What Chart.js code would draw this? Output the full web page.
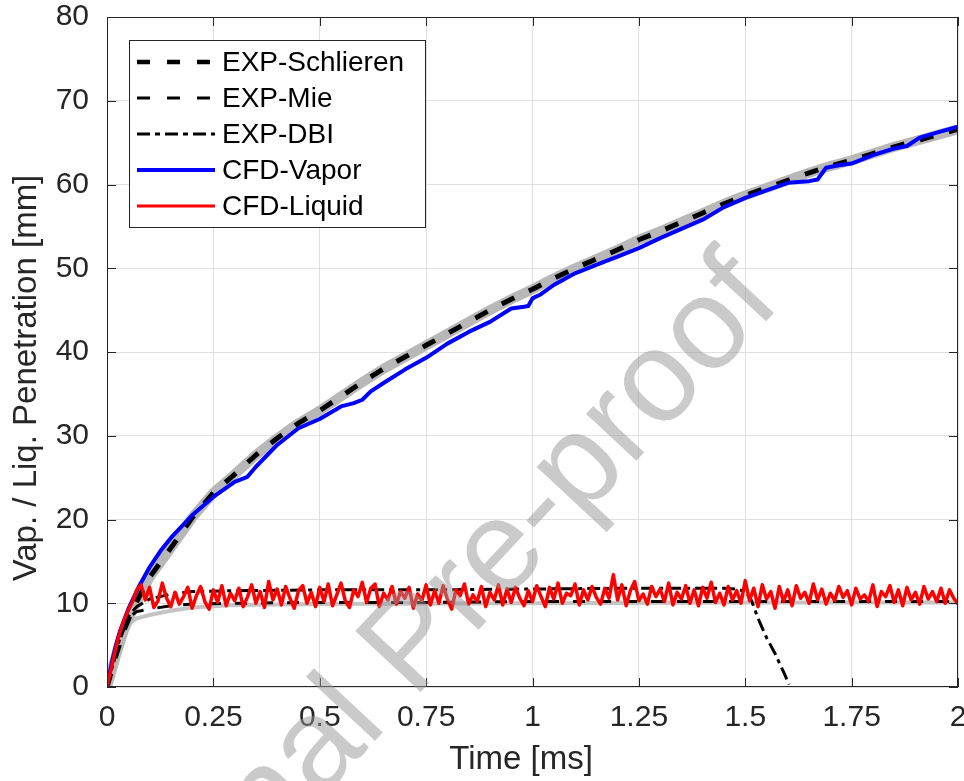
<!DOCTYPE html>
<html><head><meta charset="utf-8">
<script src="https://cdn.jsdelivr.net/npm/chart.js@4"></script>
<style>html,body{margin:0;padding:0;background:#fff;}canvas{display:block}</style>
</head><body>
<canvas id="c" width="964" height="781"></canvas>
<script>
// ---- tick labels ----
const xTickValues = [0, 0.25, 0.5, 0.75, 1, 1.25, 1.5, 1.75, 2];
const xTickLabels = ['0', '0.25', '0.5', '0.75', '1', '1.25', '1.5', '1.75', '2'];
const yTickValues = [0, 10, 20, 30, 40, 50, 60, 70, 80];
const yTickLabels = ['0', '10', '20', '30', '40', '50', '60', '70', '80'];
const xTitle = 'Time [ms]';
const yTitle = 'Vap. / Liq. Penetration [mm]';
const seriesNames = ['EXP-Schlieren', 'EXP-Mie', 'EXP-DBI', 'CFD-Vapor', 'CFD-Liquid'];

// ---- EXP-Schlieren (vapor penetration) ----
const schlierenT = [0, 0.02, 0.04, 0.06, 0.08, 0.1, 0.15, 0.2, 0.25, 0.3, 0.35, 0.4, 0.45, 0.5, 0.55, 0.6, 0.65, 0.7, 0.75, 0.8, 0.85, 0.9, 0.95, 1.0, 1.05, 1.1, 1.15, 1.2, 1.25, 1.3, 1.35, 1.4, 1.45, 1.5, 1.55, 1.6, 1.65, 1.7, 1.75, 1.8, 1.85, 1.9, 1.95, 2.0];
const schlierenV = [0, 3.6, 6.8, 9.2, 11.2, 13.1, 16.6, 20.2, 23.2, 25.4, 27.7, 29.7, 31.5, 33.0, 34.7, 36.4, 38.0, 39.4, 40.8, 42.2, 43.6, 45.0, 46.3, 47.5, 48.8, 50.0, 51.1, 52.2, 53.4, 54.4, 55.5, 56.6, 57.7, 58.7, 59.6, 60.5, 61.4, 62.2, 62.9, 63.7, 64.5, 65.2, 65.9, 66.6];

// ---- EXP-Mie (liquid length) and its shaded spread ----
const mieT = [0, 0.01, 0.02, 0.03, 0.04, 0.05, 0.07, 0.1, 0.15, 0.2, 0.3, 0.5, 0.75, 1.0, 1.25, 1.5, 1.75, 2.0];
const mieV = [0, 1.8, 3.8, 5.6, 7.0, 8.3, 9.0, 9.3, 9.7, 9.9, 10.0, 10.1, 10.1, 10.2, 10.2, 10.2, 10.2, 10.2];
const mieBandT = [0, 0.03, 0.05, 0.07, 0.1, 0.15, 0.2, 0.3, 0.5, 1.0, 1.5, 2.0];
const mieBandV = [0, 5.5, 7.5, 8.2, 8.6, 9.1, 9.5, 9.8, 9.9, 10.0, 10.1, 10.1];

// ---- EXP-DBI (liquid length) ----
const dbiT = [0, 0.01, 0.02, 0.03, 0.04, 0.05, 0.07, 0.1, 0.15, 0.2, 0.3, 0.5, 0.75, 1.0, 1.25, 1.45, 1.48, 1.5, 1.515, 1.53, 1.55, 1.57, 1.59, 1.603];
const dbiV = [0, 1.9, 3.9, 5.8, 7.3, 8.4, 9.6, 10.5, 11.1, 11.4, 11.5, 11.6, 11.6, 11.7, 11.8, 11.8, 11.7, 11.4, 10.3, 8.2, 5.9, 4.0, 1.8, 0.3];

// ---- CFD-Vapor ----
const vaporT = [0, 0.01, 0.02, 0.03, 0.05, 0.075, 0.1, 0.125, 0.15, 0.2, 0.25, 0.3, 0.33, 0.35, 0.4, 0.45, 0.5, 0.55, 0.58, 0.6, 0.62, 0.65, 0.7, 0.75, 0.8, 0.85, 0.9, 0.95, 0.98, 0.99, 1.0, 1.02, 1.05, 1.1, 1.15, 1.2, 1.25, 1.3, 1.35, 1.4, 1.45, 1.5, 1.55, 1.6, 1.65, 1.67, 1.69, 1.72, 1.75, 1.8, 1.85, 1.88, 1.91, 1.95, 2.0];
const vaporV = [0, 2.6, 4.8, 6.6, 9.3, 12.0, 14.3, 16.2, 17.8, 20.5, 22.7, 24.5, 25.1, 26.3, 28.9, 30.9, 32.0, 33.5, 33.9, 34.3, 35.3, 36.3, 37.9, 39.3, 41.0, 42.4, 43.6, 45.2, 45.4, 45.5, 46.4, 46.9, 48.0, 49.4, 50.4, 51.4, 52.4, 53.6, 54.7, 55.8, 57.3, 58.4, 59.3, 60.2, 60.4, 60.6, 62.0, 62.3, 62.5, 63.5, 64.3, 64.6, 65.6, 66.2, 66.9];

// ---- CFD-Liquid (sampled every 0.01 ms from 0 to 2 ms) ----
const liquidT0 = 0;
const liquidDt = 0.01;
const liquidV = [
  0, 2.2, 4.5, 6.5, 8.0, 9.2, 10.2, 11.6, 12.2, 10.4,
  11.9, 9.5, 10.3, 12.4, 10.6, 9.6, 11.3, 9.9, 10.8, 11.9,
  9.4, 10.9, 12.0, 10.2, 9.3, 11.6, 10.1, 12.1, 9.7, 11.2,
  10.3, 11.8, 9.6, 10.7, 12.2, 10.0, 11.4, 9.5, 12.6, 10.4,
  11.7, 9.8, 12.0, 10.6, 9.4, 11.5, 12.1, 10.0, 11.3, 9.6,
  11.9, 10.2, 12.3, 9.7, 11.0, 12.4, 10.3, 9.5, 11.6, 10.8,
  12.5, 10.1, 11.8, 12.3, 9.6, 11.2, 10.4, 12.0, 9.9, 11.4,
  10.6, 11.9, 9.4, 11.1, 10.3, 12.2, 9.8, 11.5, 10.0, 12.1,
  10.5, 9.3, 11.6, 10.9, 12.3, 9.9, 11.0, 10.2, 12.0, 9.6,
  11.3, 10.4, 12.2, 9.8, 11.7, 10.1, 11.9, 10.6, 9.7, 11.5,
  10.2, 12.1, 10.8, 9.6, 11.9, 10.5, 12.4, 10.0, 11.2, 10.9,
  12.3, 9.8, 11.6, 10.4, 12.0, 10.7, 9.9, 11.8, 10.6, 13.4,
  10.4, 12.2, 9.7, 11.5, 12.6, 10.3, 11.1, 9.9, 12.0, 10.8,
  11.7, 10.2, 12.4, 9.8, 11.3, 10.5, 12.1, 10.0, 11.6, 9.7,
  11.9, 10.6, 12.5, 10.1, 11.2, 9.8, 12.0, 10.4, 11.5, 10.0,
  12.7, 10.3, 11.8, 9.6, 12.2, 10.5, 11.4, 9.4, 12.0, 10.2,
  11.6, 9.7, 12.1, 10.6, 11.3, 10.0, 12.3, 10.4, 11.7, 9.9,
  11.2, 10.3, 12.0, 10.7, 11.5, 9.8, 11.8, 10.5, 11.0, 10.2,
  12.2, 9.6, 11.4, 10.8, 12.1, 10.1, 11.6, 9.7, 11.9, 10.4,
  11.3, 9.9, 12.0, 10.5, 11.4, 10.2, 11.8, 10.0, 11.6, 10.6,
  9.9
];

const FONT = '"Liberation Sans", Arial, Helvetica, sans-serif';
const TEXT = '#262626';

function pts(ts, vs) { return ts.map((t, i) => ({ x: t, y: vs[i] })); }
const liquidPts = liquidV.map((v, i) => ({ x: +(liquidT0 + i * liquidDt).toFixed(3), y: v }));

const styles = {
  schl: { color: '#000', width: 5, dash: [14, 16] },
  mie:  { color: '#000', width: 3, dash: [12, 14] },
  dbi:  { color: '#000', width: 3, dash: [13, 5, 4, 5] },
  vap:  { color: '#0000ff', width: 4, dash: [] },
  liq:  { color: '#ff0000', width: 3.5, dash: [] }
};

function lineDs(label, data, st, order) {
  return {
    label, data, order,
    borderColor: st.color, borderWidth: st.width, borderDash: st.dash,
    borderCapStyle: 'butt', borderJoinStyle: 'round',
    pointRadius: 0, tension: 0, fill: false
  };
}

const datasets = [
  lineDs('CFD-Liquid', liquidPts, styles.liq, 0),
  lineDs('CFD-Vapor', pts(vaporT, vaporV), styles.vap, 1),
  lineDs('EXP-DBI', pts(dbiT, dbiV), styles.dbi, 2),
  lineDs('EXP-Mie', pts(mieT, mieV), styles.mie, 3),
  lineDs('EXP-Schlieren', pts(schlierenT, schlierenV), styles.schl, 4),
  lineDs('Schlieren spread', pts(schlierenT, schlierenV), { color: '#b8b8b8', width: 10, dash: [] }, 5),
  lineDs('Mie spread', pts(mieBandT, mieBandV), { color: '#c4c4c4', width: 4, dash: [] }, 6)
];

const framePlugin = {
  id: 'frame',
  afterDatasetsDraw(chart) {
    const { ctx, chartArea: a, scales } = chart;
    ctx.save();
    ctx.strokeStyle = TEXT; ctx.lineWidth = 1; ctx.setLineDash([]);
    ctx.strokeRect(a.left + 0.5, a.top + 0.5, a.right - a.left - 1, a.bottom - a.top - 1);
    const tl = 9;
    ctx.beginPath();
    xTickValues.forEach(v => {
      const px = Math.round(scales.x.getPixelForValue(v)) + 0.5;
      ctx.moveTo(px, a.bottom); ctx.lineTo(px, a.bottom - tl);
      ctx.moveTo(px, a.top); ctx.lineTo(px, a.top + tl);
    });
    yTickValues.forEach(v => {
      const py = Math.round(scales.y.getPixelForValue(v)) + 0.5;
      ctx.moveTo(a.left, py); ctx.lineTo(a.left + tl, py);
      ctx.moveTo(a.right, py); ctx.lineTo(a.right - tl, py);
    });
    ctx.stroke();

    // axis titles
    ctx.fillStyle = TEXT;
    ctx.font = '33px ' + FONT;
    ctx.textAlign = 'center'; ctx.textBaseline = 'middle';
    ctx.fillText(xTitle, 521, 760);
    ctx.save();
    ctx.translate(27, 378); ctx.rotate(-Math.PI / 2);
    ctx.fillText(yTitle, 0, 0);
    ctx.restore();

    // legend
    const L = { x: 129, y: 40, w: 296, h: 187 };
    ctx.fillStyle = '#fff';
    ctx.fillRect(L.x, L.y, L.w, L.h);
    ctx.strokeStyle = TEXT; ctx.lineWidth = 1;
    ctx.strokeRect(L.x + 0.5, L.y + 0.5, L.w, L.h);
    const rows = [62, 98, 134, 170, 206];
    const legendStyles = [
      { color: '#000', width: 4.5, dash: [13, 17] },
      { color: '#000', width: 3, dash: [13, 17] },
      { color: '#000', width: 3, dash: [13, 5, 5, 5] },
      { color: '#0000ff', width: 4, dash: [] },
      { color: '#ff0000', width: 3, dash: [] }
    ];
    seriesNames.forEach((name, i) => {
      const s = legendStyles[i];
      ctx.beginPath();
      ctx.setLineDash(s.dash); ctx.lineCap = 'butt';
      ctx.strokeStyle = s.color; ctx.lineWidth = s.width;
      ctx.moveTo(137, rows[i]); ctx.lineTo(215, rows[i]);
      ctx.stroke();
      ctx.setLineDash([]);
      ctx.fillStyle = '#000';
      ctx.font = '28px ' + FONT;
      ctx.textAlign = 'left'; ctx.textBaseline = 'middle';
      ctx.fillText(name, 222, rows[i] + 1);
    });
    ctx.restore();
  },
  afterDraw(chart) {
    const ctx = chart.ctx;
    ctx.save();
    ctx.translate(98, 1038);
    ctx.rotate(-47 * Math.PI / 180);
    ctx.font = '130px ' + FONT;
    ctx.fillStyle = 'rgba(150,150,150,0.5)';
    ctx.textAlign = 'left'; ctx.textBaseline = 'alphabetic';
    ctx.fillText('Journal Pre-proof', 0, 0);
    ctx.restore();
  }
};

new Chart(document.getElementById('c'), {
  type: 'line',
  data: { datasets },
  options: {
    responsive: false, animation: false, devicePixelRatio: 1,
    layout: { padding: { top: 17, right: 6, left: 0, bottom: 0 } },
    plugins: { legend: { display: false }, tooltip: { enabled: false } },
    scales: {
      x: {
        type: 'linear', min: 0, max: 2,
        afterBuildTicks(s) { s.ticks = xTickValues.map(v => ({ value: v })); },
        afterFit(s) { s.height = 94; s.paddingLeft = 0; s.paddingRight = 0; },
        grid: { color: '#e0e0e0', lineWidth: 1, drawTicks: false },
        border: { display: false },
        ticks: {
          color: TEXT, font: { family: FONT, size: 30 }, padding: 13, maxRotation: 0, autoSkip: false,
          callback(v) { const i = xTickValues.indexOf(v); return i >= 0 ? xTickLabels[i] : ''; }
        }
      },
      y: {
        type: 'linear', min: 0, max: 80,
        afterBuildTicks(s) { s.ticks = yTickValues.map(v => ({ value: v })); },
        afterFit(s) { s.width = 107; s.paddingTop = 0; s.paddingBottom = 0; },
        grid: { color: '#e0e0e0', lineWidth: 1, drawTicks: false },
        border: { display: false },
        ticks: {
          color: TEXT, font: { family: FONT, size: 30 }, padding: 18, autoSkip: false,
          callback(v) { const i = yTickValues.indexOf(v); return i >= 0 ? yTickLabels[i] : ''; }
        }
      }
    }
  },
  plugins: [framePlugin]
});
</script>
</body></html>
